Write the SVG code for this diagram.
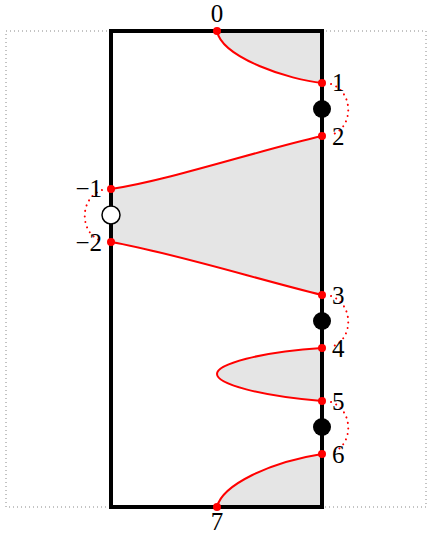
<svg xmlns="http://www.w3.org/2000/svg" width="430" height="537" viewBox="0 0 430 537">
<style>
.lbl{font-family:"Liberation Serif","DejaVu Serif",serif;font-size:25px;fill:#000}
.fill{fill:#e5e5e5;stroke:none}
.curve{fill:none;stroke:#ff0000;stroke-width:2}
.dots{fill:none;stroke:#ff0000;stroke-width:2;stroke-dasharray:0.1 5.5;stroke-linecap:round}
.pt{fill:#ff0000}
.pole{fill:#000}
.hole{fill:#fff;stroke:#000;stroke-width:1.5}
</style>
<rect x="6" y="31" width="420" height="476" fill="none" stroke="#888" stroke-width="1" stroke-dasharray="1 3"/>
<g id="regions">
<path class="fill" d="M217,31 C222,58 290,80 322,83 L322,31 Z"/>
<path class="fill" d="M322,136 C260,150 170,180 111,189 L111,242 C170,252 260,280 322,295 Z"/>
<path class="fill" d="M322,348 C260,352 217,364 217,374 C217,384 260,396 322,401 Z"/>
<path class="fill" d="M322,454 C270,462 222,485 217,507 L322,507 Z"/>
</g>
<rect id="frame" x="111" y="31" width="211" height="476" fill="none" stroke="#000" stroke-width="4"/>
<g id="connectors">
<path class="curve" d="M217,31 C222,58 290,80 322,83"/>
<path class="curve" d="M322,136 C260,150 170,180 111,189"/>
<path class="curve" d="M111,242 C170,252 260,280 322,295"/>
<path class="curve" d="M322,348 C260,352 217,364 217,374 C217,384 260,396 322,401"/>
<path class="curve" d="M322,454 C270,462 222,485 217,507"/>
<path class="dots" d="M331,84 C354,92 354,128 331,135"/>
<path class="dots" d="M331,296 C354,304 354,340 331,347"/>
<path class="dots" d="M331,402 C354,410 354,446 331,453"/>
<path class="dots" d="M102,190 C79,198 79,234 102,241"/>
</g>
<g id="p0"><circle class="pt" cx="217" cy="31" r="4"/><text class="lbl" x="217" y="22" text-anchor="middle">0</text></g>
<g id="p1"><circle class="pt" cx="322" cy="83" r="4"/><text class="lbl" x="332" y="91">1</text></g>
<g id="b1"><circle class="pole" cx="322" cy="109" r="9"/></g>
<g id="p2"><circle class="pt" cx="322" cy="136" r="4"/><text class="lbl" x="332" y="145">2</text></g>
<g id="pm1"><circle class="pt" cx="111" cy="189" r="4"/><text class="lbl" x="102" y="197" text-anchor="end">−1</text></g>
<g id="w1"><circle class="hole" cx="111" cy="215" r="9"/></g>
<g id="pm2"><circle class="pt" cx="111" cy="242" r="4"/><text class="lbl" x="102" y="251" text-anchor="end">−2</text></g>
<g id="p3"><circle class="pt" cx="322" cy="295" r="4"/><text class="lbl" x="332" y="304">3</text></g>
<g id="b2"><circle class="pole" cx="322" cy="321" r="9"/></g>
<g id="p4"><circle class="pt" cx="322" cy="348" r="4"/><text class="lbl" x="332" y="357">4</text></g>
<g id="p5"><circle class="pt" cx="322" cy="401" r="4"/><text class="lbl" x="332" y="410">5</text></g>
<g id="b3"><circle class="pole" cx="322" cy="427" r="9"/></g>
<g id="p6"><circle class="pt" cx="322" cy="454" r="4"/><text class="lbl" x="332" y="463">6</text></g>
<g id="p7"><circle class="pt" cx="217" cy="507" r="4"/><text class="lbl" x="217" y="530" text-anchor="middle">7</text></g>
</svg>
